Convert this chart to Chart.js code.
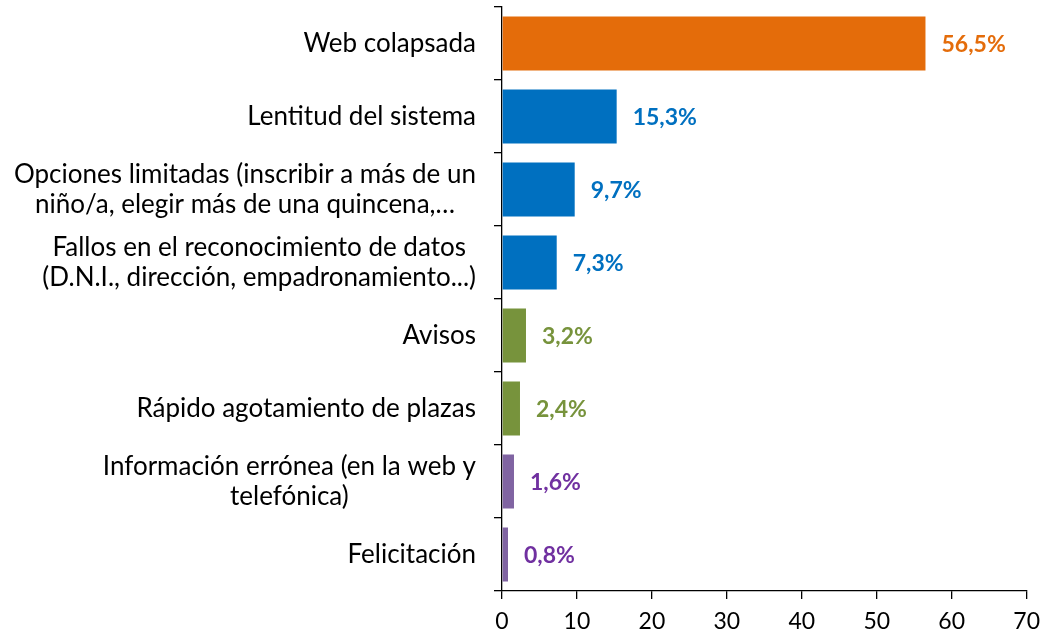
<!DOCTYPE html>
<html>
<head>
<meta charset="utf-8">
<script src="https://cdn.jsdelivr.net/npm/chart.js@4/dist/chart.umd.min.js"></script>
<style>
  html, body { margin: 0; padding: 0; background: #fff; }
  #wrap { width: 1049px; height: 634px; }
</style>
</head>
<body>
<div id="wrap"><canvas id="chart"></canvas></div>
<script>
const categories = [
    ['Web colapsada'],
    ['Lentitud del sistema'],
    ['Opciones limitadas (inscribir a más de un', 'niño/a, elegir más de una quincena,…'],
    ['Fallos en el reconocimiento de datos', '(D.N.I., dirección, empadronamiento...)'],
    ['Avisos'],
    ['Rápido agotamiento de plazas'],
    ['Información errónea (en la web y', 'telefónica)'],
    ['Felicitación']
]
const values = [56.5, 15.3, 9.7, 7.3, 3.2, 2.4, 1.6, 0.8]
const valueLabels = ['56,5%', '15,3%', '9,7%', '7,3%', '3,2%', '2,4%', '1,6%', '0,8%']
const barColors = ['#E46C0A', '#0070C0', '#0070C0', '#0070C0', '#77933C', '#77933C', '#8064A2', '#8064A2']
const labelColors = ['#E46C0A', '#0070C0', '#0070C0', '#0070C0', '#77933C', '#77933C', '#7030A0', '#7030A0']
const xTicks = [0, 10, 20, 30, 40, 50, 60, 70]

const catFont = '26px Lato, "Open Sans", sans-serif'

// category labels: block right-aligned, lines centred inside the block
const categoryLabels = {
    id: 'categoryLabels',
    afterDraw(chart) {
        const ctx = chart.ctx
        const yScale = chart.scales.y
        const right = yScale.right - 26
        const lineH = 30
        ctx.save()
        ctx.font = catFont
        ctx.fillStyle = '#000'
        ctx.textBaseline = 'middle'
        ctx.textAlign = 'center'
        categories.forEach((lines, i) => {
            const y = yScale.getPixelForTick(i)
            const w = Math.max(...lines.map(l => ctx.measureText(l).width))
            const cx = right - w / 2
            const y0 = y - (lines.length - 1) * lineH / 2
            lines.forEach((l, j) => ctx.fillText(l, cx, y0 + j * lineH))
        })
        ctx.restore()
    }
}

const valueLabelsPlugin = {
    id: 'valueLabels',
    afterDatasetsDraw(chart) {
        const ctx = chart.ctx
        const meta = chart.getDatasetMeta(0)
        ctx.save()
        ctx.font = 'bold 23px Lato, "Open Sans", sans-serif'
        ctx.textBaseline = 'middle'
        ctx.textAlign = 'left'
        meta.data.forEach((bar, i) => {
            ctx.fillStyle = labelColors[i]
            ctx.fillText(valueLabels[i], bar.x + 16, bar.y + 1)
        })
        ctx.restore()
    }
}

new Chart(document.getElementById('chart').getContext('2d'), {
    type: 'bar',
    data: {
        labels: categories.map(c => c.join(' ')),
        datasets: [{
            data: values,
            backgroundColor: barColors,
            borderWidth: 0,
            categoryPercentage: 0.74,
            barPercentage: 1
        }]
    },
    options: {
        indexAxis: 'y',
        responsive: true,
        maintainAspectRatio: false,
        animation: false,
        layout: { padding: { top: 7, right: 20, left: 0, bottom: 0 } },
        plugins: {
            legend: { display: false },
            tooltip: { enabled: false }
        },
        scales: {
            x: {
                min: 0,
                max: 70,
                afterBuildTicks: (axis) => { axis.ticks = xTicks.map(v => ({ value: v })) },
                afterFit: (axis) => { axis.height = 43 },
                border: { color: '#000', width: 1.3 },
                grid: {
                    drawOnChartArea: false,
                    drawTicks: true,
                    tickLength: 8,
                    color: '#000',
                    lineWidth: 1.3
                },
                ticks: {
                    color: '#000',
                    padding: 9,
                    font: { family: 'Lato, "Open Sans", sans-serif', size: 23 }
                }
            },
            y: {
                afterFit: (axis) => { axis.width = 502 },
                border: { color: '#000', width: 1.3 },
                grid: {
                    offset: true,
                    drawOnChartArea: false,
                    drawTicks: true,
                    tickLength: 8,
                    color: '#000',
                    lineWidth: 1.3
                },
                ticks: { display: false }
            }
        }
    },
    plugins: [categoryLabels, valueLabelsPlugin]
})
</script>
</body>
</html>
